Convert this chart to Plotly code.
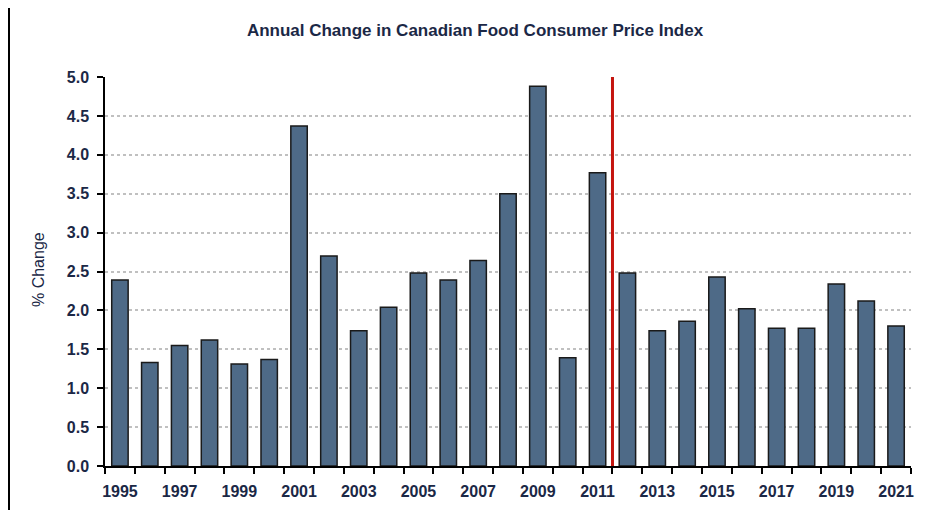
import plotly.graph_objects as go

years = list(range(1995, 2022))
pct_change = [2.39, 1.33, 1.55, 1.62, 1.31, 1.37, 4.37, 2.70, 1.74, 2.04,
              2.48, 2.39, 2.64, 3.50, 4.88, 1.39, 3.77, 2.48, 1.74, 1.86,
              2.43, 2.02, 1.77, 1.77, 2.34, 2.12, 1.80]
tick_years = list(range(1995, 2022, 2))
y_ticks = [0, 0.5, 1.0, 1.5, 2.0, 2.5, 3.0, 3.5, 4.0, 4.5, 5.0]
marker_year = 2011.5

title_text = "Annual Change in Canadian Food Consumer Price Index"
y_label = "% Change"

TXT = "#1b2846"
FONT = "Liberation Sans, Arial, sans-serif"

# the page body has an 8px margin; size the figure so it fits the window
W, H = 920, 509

fig = go.Figure()
fig.add_trace(go.Bar(
    x=years, y=pct_change, width=0.55,
    marker=dict(color="#4e6a87", line=dict(color="#1a1a1a", width=1.5)),
    hoverinfo="x+y",
))

fig.update_layout(
    width=W, height=H,
    margin=dict(l=97, r=17, t=69, b=51),
    paper_bgcolor="white", plot_bgcolor="white",
    showlegend=False,
    font=dict(family=FONT, color=TXT),
    title=dict(text=title_text, x=467 / W, xref="container", xanchor="center",
               y=1 - 22 / H, yref="container", yanchor="middle",
               font=dict(size=17, color=TXT, family=FONT, weight="bold")),
)

fig.update_xaxes(
    range=[1994.5, 2021.5],
    tickvals=tick_years, ticktext=[str(y) for y in tick_years],
    ticks="", showgrid=False, zeroline=False,
    showline=True, linecolor="black", linewidth=1.5,
    tickfont=dict(size=16, family=FONT, color=TXT, weight="bold"),
    ticklabelstandoff=10,
    minor=dict(tick0=1994.5, dtick=1, ticks="outside", ticklen=6,
               tickcolor="black", tickwidth=1.5, showgrid=False),
)
fig.update_yaxes(
    range=[0, 5], tickvals=y_ticks, ticktext=[f"{v:.1f}" for v in y_ticks],
    ticks="outside", ticklen=6, tickcolor="black", tickwidth=1.5,
    showline=True, linecolor="black", linewidth=1.5,
    showgrid=True, gridcolor="#c0c0c0", gridwidth=2, griddash="dot",
    zeroline=False,
    tickfont=dict(size=16, family=FONT, color=TXT, weight="bold"),
    ticklabelstandoff=5,
)

# red divider line
fig.add_shape(type="line", xref="x", yref="y",
              x0=marker_year, x1=marker_year, y0=0, y1=5,
              line=dict(color="#c4140e", width=3), layer="above")

# left page border line
fig.add_shape(type="line", xref="paper", yref="paper",
              x0=(9 - 105) / 806, x1=(9 - 105) / 806,
              y0=(466 - 6) / 389, y1=(466 - 510) / 389,
              line=dict(color="black", width=2))

fig.add_annotation(text=y_label, xref="paper", yref="paper",
                   x=(38 - 105) / 806, y=(466 - 270) / 389,
                   textangle=-90, showarrow=False,
                   xanchor="center", yanchor="middle",
                   font=dict(size=16, family=FONT, color=TXT))

fig.write_html("out.html")
